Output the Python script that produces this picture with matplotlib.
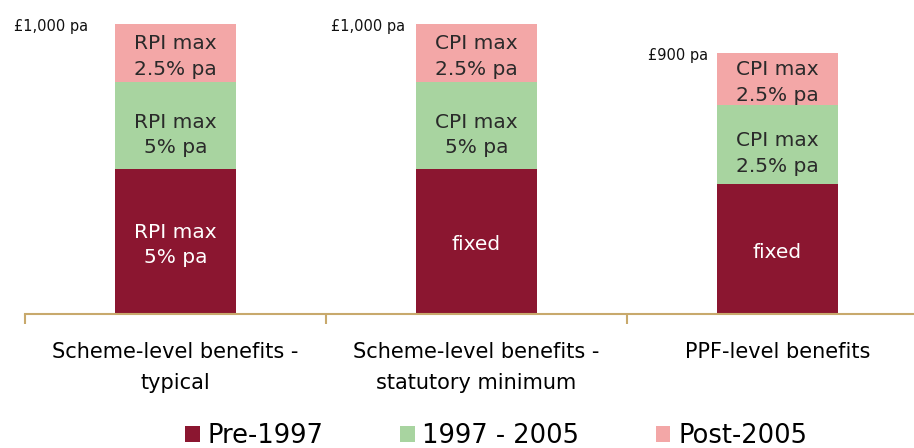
import numpy as np
import matplotlib.pyplot as plt
from matplotlib.patches import Patch

plt.rcParams['font.family'] = ['DejaVu Sans']

categories = ['Scheme-level benefits -\ntypical', 'Scheme-level benefits -\nstatutory minimum', 'PPF-level benefits']
pre1997 = [500, 500, 450]
y1997_2005 = [300, 300, 270]
post2005 = [200, 200, 180]
totals = ['£1,000 pa', '£1,000 pa', '£900 pa']

pre_labels = ['RPI max\n5% pa', 'fixed', 'fixed']
mid_labels = ['RPI max\n5% pa', 'CPI max\n5% pa', 'CPI max\n2.5% pa']
post_labels = ['RPI max\n2.5% pa', 'CPI max\n2.5% pa', 'CPI max\n2.5% pa']

series_names = ['Pre-1997', '1997 - 2005', 'Post-2005']
colors = ['#8B1630', '#A8D4A0', '#F3A7A7']
text_colors = ['white', '#2a2a2a', '#2a2a2a']
text_shift = [-12, -32, -12]   # label nudge below segment centre
axis_color = '#C8A96C'

fig = plt.figure(figsize=(9.14, 4.48), dpi=100)
ax = fig.add_axes([25/914, 134/448, 903/914, 290/448])

x = np.arange(len(categories))
width = 0.40
bottom = np.zeros(len(categories))
for vals, labs, c, tc, sh in zip([pre1997, y1997_2005, post2005],
                                 [pre_labels, mid_labels, post_labels],
                                 colors, text_colors, text_shift):
    vals = np.array(vals, dtype=float)
    ax.bar(x, vals, width, bottom=bottom, color=c, edgecolor='none')
    for i in range(len(x)):
        ax.text(x[i], bottom[i] + vals[i] / 2 + sh, labs[i], ha='center', va='center',
                fontsize=14.5, color=tc, linespacing=1.42)
    bottom += vals

# total labels next to bar tops
offsets = [-27, -11, -9]
for i in range(len(x)):
    ax.annotate(totals[i], xy=(x[i] - width / 2, bottom[i]), xytext=(offsets[i] * 0.72, -2),
                textcoords='offset points', ha='right', va='center', fontsize=10.5, color='#111111')

ax.set_xlim(-0.5, 2.5)
ax.set_ylim(0, 1000)
for s in ['top', 'right', 'left']:
    ax.spines[s].set_visible(False)
ax.spines['bottom'].set_color(axis_color)
ax.spines['bottom'].set_linewidth(1.5)
ax.set_yticks([])
ax.set_xticks([-0.5, 0.5, 1.5, 2.5])
ax.set_xticklabels([])
ax.tick_params(axis='x', length=7, width=1.5, color=axis_color, direction='out')
ax.set_xticks(x, minor=True)
ax.set_xticklabels(categories, minor=True, fontsize=15, linespacing=1.68)
ax.tick_params(axis='x', which='minor', length=0, pad=20)

handles = [Patch(facecolor=c, edgecolor='none') for c in colors]
fig.legend(handles, series_names, loc='center', bbox_to_anchor=(0.543, 0.027), ncol=3,
           frameon=False, fontsize=18.5, handlelength=0.55, handleheight=0.55, handletextpad=0.3,
           columnspacing=3.0, borderaxespad=0)

fig.savefig('out.png', dpi=100)
